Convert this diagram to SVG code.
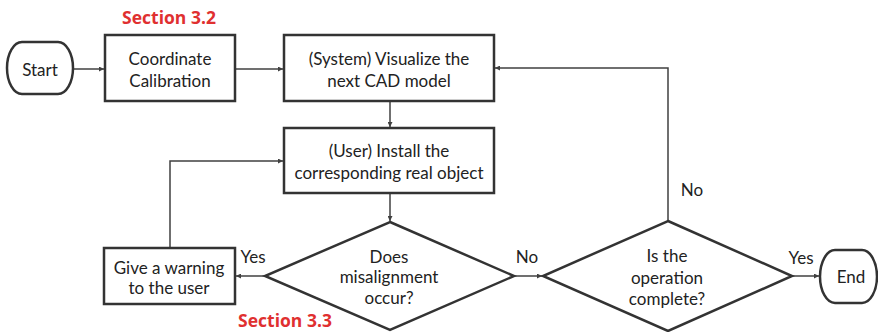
<svg xmlns="http://www.w3.org/2000/svg" width="878" height="332" viewBox="0 0 878 332">
<style>
.box{fill:#fff;stroke:#333;stroke-width:2.5}
.t{font-family:Lato,"Open Sans",sans-serif;font-size:17px;fill:#222;text-anchor:middle;dominant-baseline:central}
.sec{font-family:"Open Sans",Lato,sans-serif;font-size:17.5px;font-weight:bold;fill:#e03030;text-anchor:middle}
.c{fill:none;stroke:#404040;stroke-width:1.5;marker-end:url(#ah)}
</style>
<defs>
<marker id="ah" viewBox="0 0 8 8" refX="8" refY="4" markerWidth="5" markerHeight="5" markerUnits="userSpaceOnUse" orient="auto">
<path d="M0,0 L8,4 L0,8 Z" fill="#404040"/>
</marker>
</defs>
<rect width="878" height="332" fill="#fff"/>
<g id="connectors">
<line class="c" x1="73" y1="69" x2="104" y2="69"/>
<line class="c" x1="235" y1="69" x2="283" y2="69"/>
<line class="c" x1="390" y1="101" x2="390" y2="127"/>
<line class="c" x1="390" y1="193" x2="390" y2="221"/>
<line class="c" x1="265" y1="276" x2="236" y2="276"/>
<polyline class="c" points="170,248 170,161 283,161"/>
<line class="c" x1="514" y1="276" x2="542" y2="276"/>
<line class="c" x1="792" y1="276" x2="819" y2="276"/>
<polyline class="c" points="668,221 668,68 495,68"/>
<text class="t" x="253" y="256">Yes</text>
<text class="t" x="527" y="256">No</text>
<text class="t" x="801" y="257">Yes</text>
<text class="t" x="692" y="189">No</text>
</g>
<g id="start">
<path class="box" d="M22,42 H58 A15,26 0 0 1 58,94 H22 A15,26 0 0 1 22,42 Z"/>
<text class="t" x="40" y="69">Start</text>
</g>
<g id="calib">
<rect class="box" x="105" y="35" width="130" height="66"/>
<text class="t" x="170" y="58">Coordinate</text>
<text class="t" x="170" y="80">Calibration</text>
<text class="sec" x="169" y="24">Section 3.2</text>
</g>
<g id="visualize">
<rect class="box" x="284" y="35" width="210" height="66"/>
<text class="t" x="389" y="58">(System) Visualize the</text>
<text class="t" x="389" y="80">next CAD model</text>
</g>
<g id="install">
<rect class="box" x="284" y="128" width="210" height="65"/>
<text class="t" x="389" y="150">(User) Install the</text>
<text class="t" x="389" y="172">corresponding real object</text>
</g>
<g id="misalign">
<polygon class="box" points="390,222 514,276 390,330 265,276"/>
<text class="t" x="389" y="256">Does</text>
<text class="t" x="389" y="276">misalignment</text>
<text class="t" x="389" y="297">occur?</text>
<text class="sec" x="285" y="327">Section 3.3</text>
</g>
<g id="warning">
<rect class="box" x="104" y="248" width="131" height="56"/>
<text class="t" x="169" y="267">Give a warning</text>
<text class="t" x="169" y="287">to the user</text>
</g>
<g id="complete">
<polygon class="box" points="668,221 792,276 668,331 543,276"/>
<text class="t" x="667" y="255">Is the</text>
<text class="t" x="667" y="277">operation</text>
<text class="t" x="667" y="298">complete?</text>
</g>
<g id="end">
<path class="box" d="M835,250 H862 A15,26.5 0 0 1 862,303 H835 A15,26.5 0 0 1 835,250 Z"/>
<text class="t" x="851" y="276">End</text>
</g>
</svg>
